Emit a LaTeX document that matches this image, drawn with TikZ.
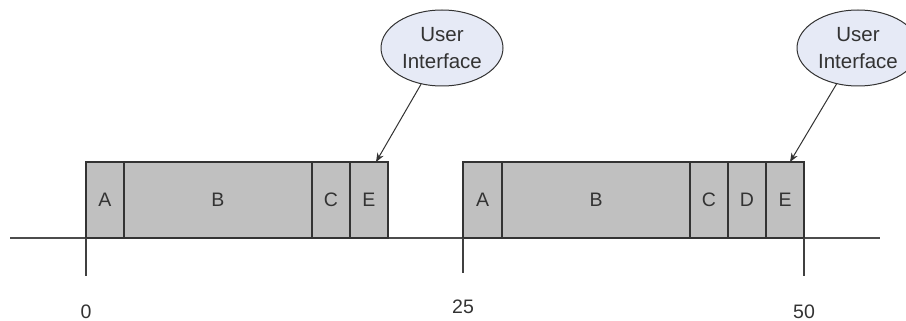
\documentclass[tikz,border=0pt]{standalone}
\usepackage{fontspec}
\setmainfont{Liberation Sans}
\usetikzlibrary{shapes.geometric,arrows.meta}
\definecolor{segfill}{HTML}{C0C0C0}
\definecolor{uifill}{HTML}{E6EAF6}
\definecolor{ink}{HTML}{333333}
\begin{document}
\begin{tikzpicture}[x=1pt,y=-1pt,
  seg/.style={draw=ink,fill=segfill,line width=1.3pt,rectangle,inner sep=0pt,
    outer sep=0pt,minimum height=76pt,text=ink,font=\fontsize{19.5}{22}\selectfont},
  ui/.style={draw=ink,fill=uifill,line width=1pt,ellipse,inner sep=0pt,
    minimum width=122pt,minimum height=76pt,align=center,text=ink,
    font=\fontsize{20.5}{27}\selectfont},
  axis/.style={draw=black!70,line width=1.2pt},
  tick/.style={draw=black!75,line width=1.2pt},
  num/.style={text=ink,font=\fontsize{19.5}{22}\selectfont},
  pointer/.style={draw=ink,line width=1pt,-{Stealth[length=9pt,width=7pt]}}]
\useasboundingbox (0,0) rectangle (906,321);
\clip (0,0) rectangle (906,321);
\fill[white] (0,0) rectangle (906,321);

% time axis
\coordinate (axL) at (10,238);
\coordinate (axR) at (880,238);
\draw[axis] (axL) -- (axR);

% first frame
\node[seg,minimum width=38pt] (a1) at (105,200) {A};
\node[seg,minimum width=188pt] (b1) at (218,200) {B};
\node[seg,minimum width=38pt] (c1) at (331,200) {C};
\node[seg,minimum width=38pt] (e1) at (369,200) {E};

% second frame
\node[seg,minimum width=39pt] (a2) at (482.5,200) {A};
\node[seg,minimum width=188pt] (b2) at (596,200) {B};
\node[seg,minimum width=38pt] (c2) at (709,200) {C};
\node[seg,minimum width=38pt] (d2) at (747,200) {D};
\node[seg,minimum width=38pt] (e2) at (785,200) {E};

% ticks and time labels
\coordinate (t0) at (86,276);
\coordinate (t25) at (463,273);
\coordinate (t50) at (804,276);
\draw[tick] (a1.south west) -- (t0);
\draw[tick] (a2.south west) -- (t25);
\draw[tick] (e2.south east) -- (t50);
\node[num] (n0) at (86,312) {0};
\node[num] (n25) at (463,307) {25};
\node[num] (n50) at (804,312) {50};

% user interface callouts
\node[ui] (ui1) at (442,48) {User\\Interface};
\node[ui] (ui2) at (858,48) {User\\Interface};
\coordinate (p1) at ([xshift=7pt]e1.north);
\coordinate (p2) at ([xshift=5pt]e2.north);
\draw[pointer] (ui1) -- (p1);
\draw[pointer] (ui2) -- (p2);
\end{tikzpicture}
\end{document}
